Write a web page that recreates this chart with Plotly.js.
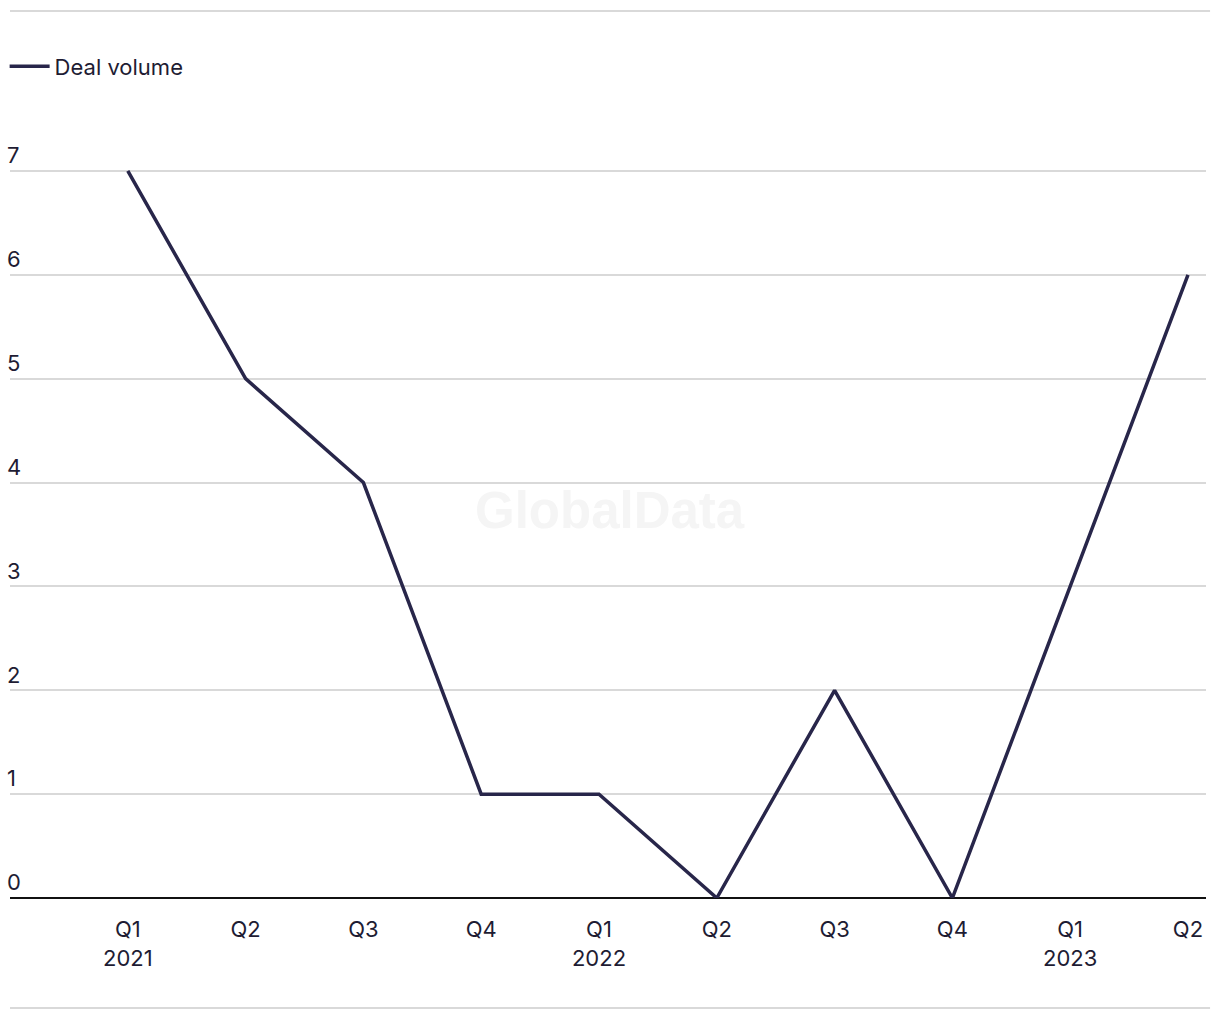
<!DOCTYPE html>
<html>
<head>
<meta charset="utf-8">
<script src="https://cdn.plot.ly/plotly-3.0.1.min.js"></script>
<style>
  html, body { margin: 0; padding: 0; background: #ffffff; }
  #chart { width: 1220px; height: 1020px; }
</style>
</head>
<body>
<div id="chart"></div>
<script>
const quarters = ["Q1 2021", "Q2 2021", "Q3 2021", "Q4 2021", "Q1 2022", "Q2 2022", "Q3 2022", "Q4 2022", "Q1 2023", "Q2 2023"];
const tickLabels = ["Q1<br>2021", "Q2", "Q3", "Q4", "Q1<br>2022", "Q2", "Q3", "Q4", "Q1<br>2023", "Q2"];
const dealVolume = [7, 5, 4, 1, 1, 0, 2, 0, 3, 6];
const yTicks = [0, 1, 2, 3, 4, 5, 6, 7];

const FONT = "Inter, 'Liberation Sans', Arial, sans-serif";
const INK = "#28264a";
const TEXT = "#1e1c33";

const trace = {
  type: "scatter",
  mode: "lines",
  name: "Deal volume",
  x: quarters,
  y: dealVolume,
  line: { color: INK, width: 3.5 },
  cliponaxis: false,
  hoverinfo: "x+y"
};

const layout = {
  width: 1220,
  height: 1020,
  margin: { l: 10, r: 14, t: 119, b: 122, autoexpand: false },
  paper_bgcolor: "#ffffff",
  plot_bgcolor: "#ffffff",
  font: { family: FONT, size: 22, color: TEXT },
  showlegend: true,
  legend: {
    orientation: "h",
    x: -0.0045, xanchor: "left",
    y: 1.0675, yanchor: "middle",
    itemwidth: 40,
    font: { family: FONT, size: 22, color: TEXT },
    bgcolor: "rgba(0,0,0,0)"
  },
  xaxis: {
    type: "category",
    categoryorder: "array",
    categoryarray: quarters,
    tickmode: "array",
    tickvals: quarters,
    ticktext: tickLabels,
    range: [-1, 9.153],
    showgrid: false,
    zeroline: false,
    showline: false,
    ticks: "",
    ticklabelstandoff: 16,
    automargin: false,
    tickfont: { family: FONT, size: 22, color: TEXT },
    fixedrange: true
  },
  yaxis: {
    range: [0, 7.5],
    tickmode: "array",
    tickvals: yTicks,
    ticktext: yTicks.map(String),
    ticklabelposition: "inside top",
    ticklabelstandoff: -6,
    automargin: false,
    showgrid: true,
    gridcolor: "#d9d9d9",
    gridwidth: 1.5,
    zeroline: true,
    zerolinecolor: "#111111",
    zerolinewidth: 2,
    showline: false,
    ticks: "",
    tickfont: { family: FONT, size: 22, color: TEXT },
    fixedrange: true
  },
  shapes: [
    { type: "line", xref: "paper", yref: "paper", x0: 0, x1: 1.0034, y0: 1.1387, y1: 1.1387,
      line: { color: "#d9d9d9", width: 2 } },
    { type: "line", xref: "paper", yref: "paper", x0: 0, x1: 1.0034, y0: -0.1412, y1: -0.1412,
      line: { color: "#d9d9d9", width: 2 } }
  ],
  annotations: [
    { text: "GlobalData", xref: "paper", yref: "paper", x: 0.5017, y: 0.4968,
      xanchor: "center", yanchor: "middle", showarrow: false,
      font: { family: "'Liberation Sans', Arial, sans-serif", size: 51, color: "#f5f5f5", weight: 700 } }
  ]
};

Plotly.newPlot("chart", [trace], layout, { displayModeBar: false, responsive: false });
</script>
</body>
</html>
